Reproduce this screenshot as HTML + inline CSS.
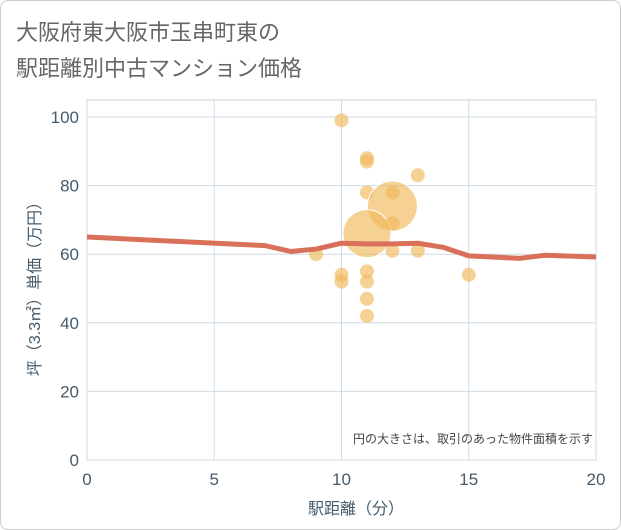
<!DOCTYPE html>
<html><head><meta charset="utf-8"><style>
body{margin:0;background:#fff;font-family:"Liberation Sans","Noto Sans CJK JP",sans-serif;}
#card{position:absolute;left:0;top:0;width:619px;height:528px;border:1px solid #ccc;border-radius:8px;background:#fff;}
</style></head><body>
<div id="card"></div>
<svg id="c" width="621" height="530" style="position:absolute;left:0;top:0">
<text x="16" y="40" font-size="22" fill="#666">大阪府東大阪市玉串町東の</text>
<text x="16" y="76" font-size="22" fill="#666">駅距離別中古マンション価格</text>
<g id="grid"></g><g id="pts"></g><g id="ln"></g><g id="ax"></g>
<text x="593" y="443" font-size="12" fill="#444" text-anchor="end">円の大きさは、取引のあった物件面積を示す</text>
<text x="356" y="514" font-size="16" fill="#455a6a" text-anchor="middle">駅距離（分）</text>
<text transform="translate(40,285) rotate(-90)" font-size="16" fill="#455a6a" text-anchor="middle">坪（3.3㎡）単価（万円）</text>
</svg>
<script>
const xTicks=[0,5,10,15,20];
const yTicks=[0,20,40,60,80,100];
const ptX=[10,11,11,11,12,12,11,12,13,9,12,13,10,10,11,11,11,11,15];
const ptY=[99,88,87,78,78,74,66,69,83,60,61,61,54,52,55,52,47,42,54];
const ptR=[7,7,7,7,7,25,24,7,7,7,7,7,7,7,7,7,7,7,7];
const lineX=[0,7,8,9,10,11,12,13,14,15,17,18,20];
const lineY=[65,62.5,60.8,61.5,63.2,63,63,63.2,62,59.5,58.8,59.7,59.2];
const X0=87,X1=596,Y0=460,Y1=117;
const sx=v=>X0+(X1-X0)*v/20, sy=v=>Y0-(Y0-Y1)*v/100;
const NS="http://www.w3.org/2000/svg";
function mk(p,t,a){const e=document.createElementNS(NS,t);for(const k in a)e.setAttribute(k,a[k]);document.getElementById(p).appendChild(e);return e;}
let e=mk('grid','rect',{x:X0,y:100,width:X1-X0,height:Y0-100,fill:'none',stroke:'#ccc'});


xTicks.forEach(t=>{let l=mk('grid','line',{x1:sx(t),x2:sx(t),y1:100,y2:Y0,stroke:'#d0dbe6'});


let tx=mk('ax','text',{x:sx(t),y:485,'font-size':17,fill:'#455a6a','text-anchor':'middle'});tx.textContent=t;

});
yTicks.forEach(t=>{let l=mk('grid','line',{x1:X0,x2:X1,y1:sy(t),y2:sy(t),stroke:'#d0dbe6'});


let tx=mk('ax','text',{x:79,y:sy(t)+6,'font-size':17,fill:'#455a6a','text-anchor':'end'});tx.textContent=t;

});
ptX.forEach((v,i)=>{let c=mk('pts','circle',{cx:sx(v),cy:sy(ptY[i]),r:ptR[i],fill:'rgba(240,185,90,0.65)',stroke:ptR[i]>10?'#fff':'none'});

});
let p=mk('ln','polyline',{points:lineX.map((v,i)=>sx(v)+','+sy(lineY[i])).join(' '),fill:'none',stroke:'#d9705a','stroke-width':5,'stroke-linejoin':'round'});


</script>
</body></html>
